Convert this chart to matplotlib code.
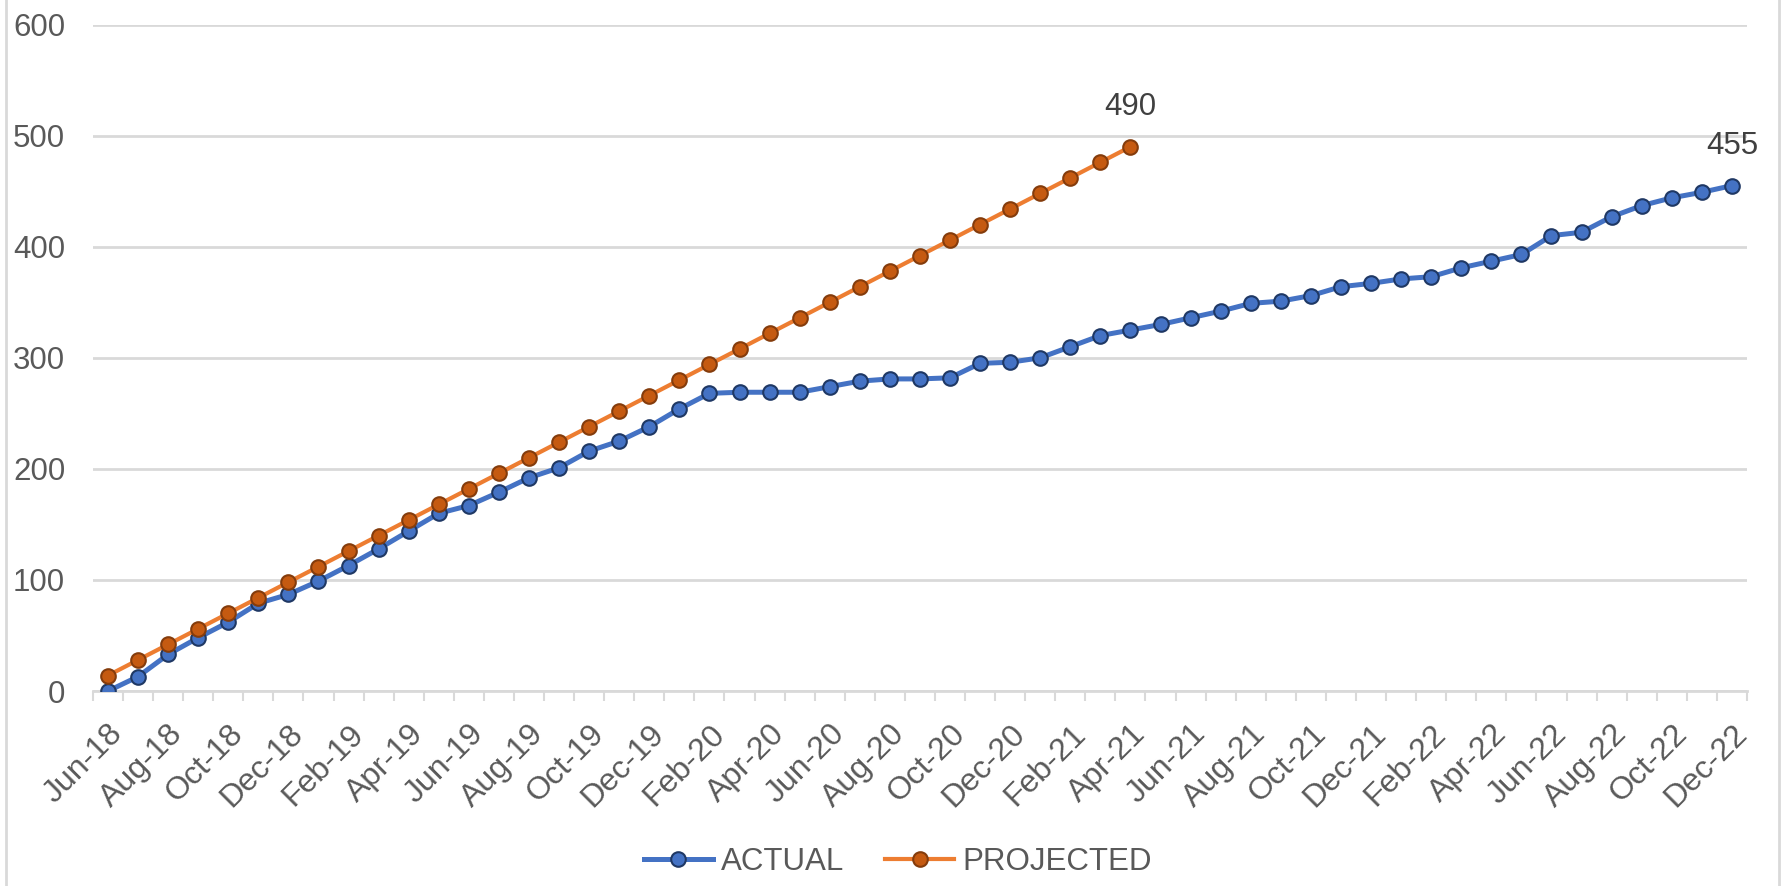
import matplotlib
matplotlib.use('Agg')
import matplotlib.pyplot as plt
from matplotlib.lines import Line2D

months = ['Jun-18', 'Jul-18', 'Aug-18', 'Sep-18', 'Oct-18', 'Nov-18', 'Dec-18',
          'Jan-19', 'Feb-19', 'Mar-19', 'Apr-19', 'May-19', 'Jun-19', 'Jul-19',
          'Aug-19', 'Sep-19', 'Oct-19', 'Nov-19', 'Dec-19',
          'Jan-20', 'Feb-20', 'Mar-20', 'Apr-20', 'May-20', 'Jun-20', 'Jul-20',
          'Aug-20', 'Sep-20', 'Oct-20', 'Nov-20', 'Dec-20',
          'Jan-21', 'Feb-21', 'Mar-21', 'Apr-21', 'May-21', 'Jun-21', 'Jul-21',
          'Aug-21', 'Sep-21', 'Oct-21', 'Nov-21', 'Dec-21',
          'Jan-22', 'Feb-22', 'Mar-22', 'Apr-22', 'May-22', 'Jun-22', 'Jul-22',
          'Aug-22', 'Sep-22', 'Oct-22', 'Nov-22', 'Dec-22']

actual = [0, 13, 33, 48, 62, 79, 87,
          99, 113, 128, 144, 160, 167, 179, 192, 201, 216, 225, 238,
          254, 268, 269, 269, 269, 274, 279, 281, 281, 282, 295, 296,
          300, 310, 320, 325, 330, 336, 342, 349, 351, 356, 364, 367,
          371, 373, 381, 387, 393, 410, 413, 427, 437, 444, 449, 455]

projected = [14, 28, 42, 56, 70, 84, 98,
             112, 126, 140, 154, 168, 182, 196, 210, 224, 238, 252, 266,
             280, 294, 308, 322, 336, 350, 364, 378, 392, 406, 420, 434,
             448, 462, 476, 490]

plt.rcParams['font.family'] = ['Liberation Sans', 'DejaVu Sans']
grey = '#595959'
light = '#D9D9D9'

fig = plt.figure(figsize=(17.87, 8.86), dpi=100)
ax = fig.add_axes([0.052, 0.22, 0.9256, 0.7523])

ax.plot(range(len(actual)), actual, color='#4472C4', lw=3.6, marker='o', ms=10.5,
        mfc='#4472C4', mec='#1F3864', mew=1.5, label='ACTUAL', zorder=3)
ax.plot(range(len(projected)), projected, color='#ED7D31', lw=3, marker='o', ms=10.5,
        mfc='#C55A11', mec='#843C0C', mew=1.5, label='PROJECTED', zorder=4)

# end-point labels
for ys in (projected, actual):
    ax.annotate(str(ys[-1]), (len(ys) - 1, ys[-1]), xytext=(0, 23),
                textcoords='offset points', ha='center', va='baseline',
                fontsize=22.5, color='#404040')

ax.set_xlim(-0.5, len(months) - 0.5)
ax.set_ylim(0, 600)
ax.set_yticks(range(0, 601, 100))
ax.grid(axis='y', color=light, lw=2)
ax.set_axisbelow(True)
for s in ('left', 'right', 'top'):
    ax.spines[s].set_visible(False)
ax.spines['bottom'].set_color(light)
ax.spines['bottom'].set_linewidth(2)

ax.tick_params(axis='y', length=0, pad=20, labelsize=22.5, labelcolor=grey)
ax.set_xticks(range(0, len(months), 2))
ax.set_xticklabels(months[::2], rotation=45, ha='right', va='top',
                   rotation_mode='anchor')
ax.set_xticks([i - 0.5 for i in range(len(months) + 1)], minor=True)
ax.tick_params(axis='x', which='major', length=0, pad=20, labelsize=23,
               labelcolor=grey)
ax.tick_params(axis='x', which='minor', length=7, width=1.5, color=light)

fig.legend(loc='center', bbox_to_anchor=(0.5025, 0.027), ncol=2, frameon=False,
           fontsize=22.5, handlelength=2.2, handletextpad=0.27, columnspacing=1.3,
           labelcolor=grey)

# chart border
for xb in (0.0034, 0.9955):
    fig.add_artist(Line2D([xb, xb], [0, 1], transform=fig.transFigure,
                          color=light, lw=2))

fig.savefig('out.png', dpi=100)
